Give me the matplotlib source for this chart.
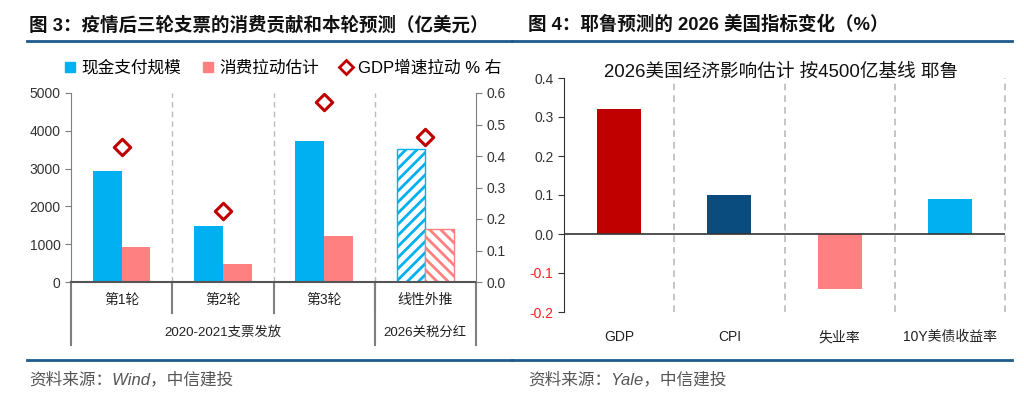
import numpy as np
import matplotlib
matplotlib.use("Agg")
import matplotlib.pyplot as plt
from matplotlib.lines import Line2D
import matplotlib.transforms as mtransforms

plt.rcParams['font.family'] = ['Liberation Sans', 'Noto Sans CJK SC', 'DejaVu Sans']
plt.rcParams['hatch.linewidth'] = 2.0

# ---- data: chart 3
rounds = ['第1轮', '第2轮', '第3轮', '线性外推']
groups = ['2020-2021支票发放', '2026关税分红']
cash_pay = [2930, 1470, 3740, 3510]
consume = [920, 480, 1220, 1410]
gdp_pull = [0.43, 0.225, 0.57, 0.46]

# ---- data: chart 4
indicators = ['GDP', 'CPI', '失业率', '10Y美债收益率']
changes = [0.32, 0.10, -0.14, 0.09]

BLUE = '#00B0F0'
PINK = '#FF8080'
RED = '#C00000'
NAVY = '#0A4C7E'
LINE = '#1F5A8C'
W, H = 1024, 398

fig = plt.figure(figsize=(W / 100, H / 100), dpi=100)

def fx(px):
    return px / W

def fy(py):
    return 1 - py / H

# titles and frame lines
fig.text(fx(29), fy(25), '图 3：疫情后三轮支票的消费贡献和本轮预测（亿美元）',
         fontsize=13.3, fontweight='bold', va='center', ha='left', color='#111111')
fig.text(fx(528), fy(25), '图 4：耶鲁预测的 2026 美国指标变化（%）',
         fontsize=13.3, fontweight='bold', va='center', ha='left', color='#111111')
for (x0, x1) in [(27, 512), (512, 1012)]:
    fig.add_artist(Line2D([fx(x0), fx(x1)], [fy(41), fy(41)], color=LINE, lw=2))
    fig.add_artist(Line2D([fx(x0), fx(x1)], [fy(360), fy(360)], color=LINE, lw=2))
fig.text(fx(29), fy(379), '资料来源：Wind，中信建投', fontsize=12, style='italic',
         color='#555555', va='center')
fig.text(fx(528), fy(379), '资料来源：Yale，中信建投', fontsize=12, style='italic',
         color='#555555', va='center')

# ---------------- left chart
ax = fig.add_axes([fx(71), fy(282), fx(476 - 71), (282 - 93) / H])
x = np.arange(len(rounds))
bw = 0.285
for i in range(len(rounds)):
    if i < 3:
        ax.bar(x[i] - bw / 2, cash_pay[i], bw, color=BLUE, zorder=2)
        ax.bar(x[i] + bw / 2, consume[i], bw, color=PINK, zorder=2)
    else:
        ax.bar(x[i] - bw / 2, cash_pay[i], bw, facecolor='white', edgecolor=BLUE,
               hatch='///', lw=1, zorder=2)
        ax.bar(x[i] + bw / 2, consume[i], bw, facecolor='white', edgecolor=PINK,
               hatch='\\\\\\', lw=1, zorder=2)
ax.set_xlim(-0.5, 3.5)
ax.set_ylim(0, 5000)
ax.set_yticks(np.arange(0, 5001, 1000))
ax.set_xticks([])
for s in ['top', 'right']:
    ax.spines[s].set_visible(False)
ax.spines['left'].set_color('#7F7F7F')
ax.spines['bottom'].set_color('#555555')
ax.spines['bottom'].set_linewidth(1.5)
ax.tick_params(axis='y', labelsize=10, colors='#333333', color='#7F7F7F', length=4)
for sep in [0.5, 1.5, 2.5]:
    ax.axvline(sep, color='#BBBBBB', ls=(0, (4, 3)), lw=1, zorder=1)

ax2 = ax.twinx()
ax2.set_ylim(0, 0.6)
ax2.set_yticks(np.arange(0, 0.61, 0.1))
ax2.yaxis.set_major_formatter(matplotlib.ticker.FormatStrFormatter('%.1f'))
ax2.scatter(x, gdp_pull, marker='D', s=70, facecolor='white', edgecolor=RED,
            linewidth=2.2, zorder=3)
for s in ['top', 'left', 'bottom']:
    ax2.spines[s].set_visible(False)
ax2.spines['right'].set_color('#7F7F7F')
ax2.tick_params(axis='y', labelsize=10, colors='#333333', color='#7F7F7F', length=4)

# category table under the axis
trans = mtransforms.blended_transform_factory(ax.transData, ax.transAxes)
ah = 282 - 93
for sep in [0.5, 1.5, 2.5]:
    ax.add_artist(Line2D([sep, sep], [0, -31 / ah], transform=trans, color='#7F7F7F',
                         lw=1.5, clip_on=False))
for sep in [-0.5, 2.5, 3.5]:
    ax.add_artist(Line2D([sep, sep], [0, -63 / ah], transform=trans, color='#7F7F7F',
                         lw=1.5, clip_on=False))
for i, r in enumerate(rounds):
    ax.text(i, -18 / ah, r, transform=trans, ha='center', va='center', fontsize=10,
            color='#222222')
ax.text(1, -51 / ah, groups[0], transform=trans, ha='center', va='center', fontsize=9.6,
        color='#222222')
ax.text(3, -51 / ah, groups[1], transform=trans, ha='center', va='center', fontsize=9.6,
        color='#222222')

handles = [Line2D([], [], marker='s', ls='none', color=BLUE, markersize=7),
           Line2D([], [], marker='s', ls='none', color=PINK, markersize=7),
           Line2D([], [], marker='D', ls='none', markerfacecolor='white',
                  markeredgecolor=RED, markeredgewidth=2, markersize=7)]
fig.legend(handles, ['现金支付规模', '消费拉动估计', 'GDP增速拉动 % 右'],
           loc='center', bbox_to_anchor=(fx(282), fy(68)), ncol=3, frameon=False,
           fontsize=12, handlelength=0.8, handletextpad=0.3, columnspacing=1.2)

# ---------------- right chart
bx = fig.add_axes([fx(564), fy(312), fx(1005 - 564), (312 - 78) / H])
xi = np.arange(len(indicators))
bx.bar(xi, changes, 0.4, color=[RED, NAVY, PINK, BLUE], zorder=2)
bx.set_xlim(-0.5, 3.5)
bx.set_ylim(-0.2, 0.4)
bx.set_yticks(np.round(np.arange(-0.2, 0.41, 0.1), 1))
bx.yaxis.set_major_formatter(matplotlib.ticker.FormatStrFormatter('%.1f'))
bx.axhline(0, color='#333333', lw=1.2, zorder=3)
for sep in [0.5, 1.5, 2.5, 3.5]:
    bx.axvline(sep, color='#BBBBBB', ls=(0, (4, 3)), lw=1.2, zorder=1, clip_on=False)
for s in ['top', 'right', 'bottom']:
    bx.spines[s].set_visible(False)
bx.spines['left'].set_color('#333333')
bx.tick_params(axis='y', labelsize=10, colors='#333333', color='#333333', length=4)
for lab, v in zip(bx.get_yticklabels(), bx.get_yticks()):
    if v < 0:
        lab.set_color('#FF2020')
bx.set_xticks(xi)
bx.set_xticklabels(indicators, fontsize=10, color='#222222')
bx.tick_params(axis='x', length=0, pad=13)
fig.text(fx(781), fy(72), '2026美国经济影响估计 按4500亿基线 耶鲁', fontsize=13.4,
         ha='center', va='center', color='#111111')

fig.savefig('out.png', dpi=100)
